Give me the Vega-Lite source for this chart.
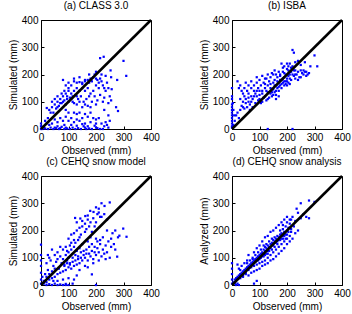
{
  "$schema": "https://vega.github.io/schema/vega-lite/v6.json",
  "padding": {"left": 7, "top": 0, "right": 3, "bottom": 2},
  "background": "white",
  "columns": 2,
  "spacing": {"column": 38, "row": 0},
  "datasets": {
    "diag": [{"o": 0, "s": 0}, {"o": 400, "s": 400}],
    "a": [
      {"o":215,"s":260},{"o":228,"s":265},{"o":300,"s":250},{"o":253,"s":215},{"o":310,"s":195},{"o":195,"s":200},{"o":80,"s":180},{"o":277,"s":180},{"o":255,"s":190},{"o":257,"s":146},{"o":273,"s":80},{"o":280,"s":66},{"o":21,"s":77},
      {"o":100,"s":170},{"o":110,"s":160},{"o":120,"s":175},{"o":130,"s":170},{"o":140,"s":172},{"o":150,"s":165},{"o":160,"s":175},{"o":170,"s":180},{"o":175,"s":170},{"o":180,"s":185},{"o":185,"s":175},{"o":190,"s":190},{"o":200,"s":185},{"o":205,"s":180},{"o":210,"s":170},{"o":215,"s":185},{"o":220,"s":175},{"o":225,"s":160},{"o":230,"s":150},{"o":240,"s":170},{"o":245,"s":150},{"o":235,"s":140},{"o":250,"s":120},{"o":210,"s":150},{"o":200,"s":160},{"o":190,"s":140},{"o":180,"s":130},{"o":170,"s":150},{"o":160,"s":140},{"o":150,"s":150},{"o":140,"s":140},{"o":130,"s":150},{"o":120,"s":140},{"o":110,"s":130},{"o":100,"s":140},{"o":90,"s":130},{"o":80,"s":120},{"o":70,"s":110},{"o":60,"s":100},{"o":50,"s":90},{"o":40,"s":80},{"o":30,"s":70},{"o":45,"s":60},{"o":55,"s":75},{"o":65,"s":85},{"o":75,"s":95},{"o":85,"s":105},{"o":95,"s":110},{"o":105,"s":115},{"o":115,"s":120},{"o":125,"s":125},{"o":135,"s":110},{"o":145,"s":120},{"o":155,"s":100},{"o":165,"s":110},{"o":175,"s":120},{"o":185,"s":100},{"o":195,"s":120},{"o":205,"s":105},{"o":215,"s":125},{"o":225,"s":100},{"o":230,"s":115},{"o":245,"s":95},{"o":255,"s":105},{"o":120,"s":95},{"o":100,"s":100},{"o":90,"s":90},{"o":80,"s":100},{"o":70,"s":95},{"o":60,"s":80},{"o":110,"s":110},{"o":130,"s":90},{"o":140,"s":100},{"o":150,"s":80},{"o":160,"s":90},{"o":170,"s":85},{"o":180,"s":80},{"o":200,"s":90},{"o":230,"s":70},{"o":245,"s":50},{"o":100,"s":150},{"o":90,"s":160},{"o":120,"s":185},{"o":140,"s":190},{"o":160,"s":180},{"o":175,"s":200},{"o":200,"s":210},{"o":220,"s":200},{"o":235,"s":195},{"o":150,"s":170},{"o":130,"s":120},{"o":115,"s":100},{"o":95,"s":120},{"o":85,"s":140},{"o":75,"s":130},{"o":60,"s":120},{"o":50,"s":110},{"o":40,"s":100},{"o":35,"s":60},{"o":25,"s":40},{"o":15,"s":30},{"o":20,"s":20},{"o":10,"s":10},
      {"o":5,"s":0},{"o":15,"s":2},{"o":25,"s":0},{"o":35,"s":5},{"o":45,"s":0},{"o":55,"s":3},{"o":65,"s":0},{"o":75,"s":8},{"o":85,"s":0},{"o":95,"s":2},{"o":105,"s":0},{"o":115,"s":5},{"o":125,"s":0},{"o":135,"s":3},{"o":145,"s":0},{"o":155,"s":10},{"o":165,"s":0},{"o":175,"s":2},{"o":185,"s":0},{"o":200,"s":5},{"o":215,"s":0},{"o":225,"s":0},{"o":40,"s":20},{"o":60,"s":25},{"o":80,"s":30},{"o":100,"s":30},{"o":120,"s":25},{"o":140,"s":30},{"o":160,"s":20},{"o":180,"s":25},{"o":200,"s":20},{"o":90,"s":45},{"o":110,"s":40},{"o":130,"s":35},{"o":150,"s":40},{"o":170,"s":45},{"o":190,"s":40},{"o":70,"s":40},{"o":50,"s":35},{"o":140,"s":60},{"o":160,"s":55},{"o":130,"s":55},{"o":120,"s":60},{"o":100,"s":60},{"o":90,"s":70},{"o":180,"s":60},{"o":200,"s":35},{"o":220,"s":20},{"o":240,"s":15},{"o":30,"s":15},{"o":60,"s":10},{"o":85,"s":15},{"o":110,"s":15},{"o":130,"s":12},{"o":150,"s":18},{"o":170,"s":10},{"o":195,"s":12},{"o":0,"s":20},{"o":0,"s":10},{"o":0,"s":0},{"o":10,"s":5},{"o":50,"s":5},{"o":70,"s":3},{"o":90,"s":5},{"o":160,"s":5},{"o":205,"s":3},{"o":230,"s":10},{"o":245,"s":5},{"o":250,"s":30},{"o":235,"s":25},{"o":210,"s":40}
    ],
    "b": [
      {"o":0,"s":150},{"o":0,"s":120},{"o":0,"s":110},{"o":0,"s":90},{"o":0,"s":80},{"o":0,"s":70},{"o":0,"s":60},{"o":0,"s":50},{"o":0,"s":40},{"o":0,"s":30},{"o":0,"s":20},{"o":0,"s":10},{"o":0,"s":5},{"o":3,"s":95},{"o":5,"s":70},{"o":8,"s":50},{"o":10,"s":30},{"o":5,"s":15},
      {"o":20,"s":175},{"o":25,"s":150},{"o":30,"s":160},{"o":35,"s":140},{"o":40,"s":130},{"o":45,"s":120},{"o":50,"s":110},{"o":30,"s":110},{"o":40,"s":100},{"o":50,"s":95},{"o":60,"s":100},{"o":60,"s":130},{"o":70,"s":120},{"o":70,"s":150},{"o":75,"s":110},{"o":80,"s":140},{"o":80,"s":160},{"o":85,"s":130},{"o":90,"s":120},{"o":90,"s":170},{"o":95,"s":150},{"o":100,"s":140},{"o":100,"s":110},{"o":100,"s":180},{"o":105,"s":160},{"o":110,"s":130},{"o":110,"s":100},{"o":115,"s":170},{"o":120,"s":150},{"o":120,"s":120},{"o":125,"s":185},{"o":125,"s":140},{"o":130,"s":160},{"o":130,"s":110},{"o":135,"s":175},{"o":140,"s":150},{"o":140,"s":130},{"o":140,"s":190},{"o":145,"s":120},{"o":150,"s":170},{"o":150,"s":145},{"o":155,"s":135},{"o":155,"s":180},{"o":160,"s":160},{"o":160,"s":125},{"o":165,"s":190},{"o":165,"s":150},{"o":170,"s":170},{"o":170,"s":140},{"o":175,"s":200},{"o":175,"s":160},{"o":180,"s":180},{"o":180,"s":150},{"o":185,"s":170},{"o":185,"s":210},{"o":190,"s":190},{"o":190,"s":160},{"o":195,"s":200},{"o":195,"s":175},{"o":200,"s":220},{"o":200,"s":185},{"o":205,"s":195},{"o":205,"s":170},{"o":210,"s":240},{"o":210,"s":200},{"o":215,"s":210},{"o":215,"s":180},{"o":220,"s":290},{"o":225,"s":280},{"o":220,"s":230},{"o":225,"s":195},{"o":230,"s":215},{"o":230,"s":185},{"o":235,"s":200},{"o":240,"s":210},{"o":245,"s":190},{"o":250,"s":215},{"o":255,"s":205},{"o":260,"s":200},{"o":265,"s":210},{"o":270,"s":195},{"o":275,"s":200},{"o":285,"s":230},{"o":300,"s":270},{"o":310,"s":230},{"o":240,"s":250},{"o":230,"s":245},{"o":200,"s":240},{"o":190,"s":230},{"o":180,"s":240},{"o":170,"s":210},{"o":160,"s":200},{"o":150,"s":200},{"o":130,"s":200},{"o":110,"s":195},{"o":90,"s":190},{"o":60,"s":160},{"o":50,"s":170},{"o":70,"s":175},{"o":45,"s":150},{"o":55,"s":140},{"o":65,"s":90},{"o":75,"s":80},{"o":85,"s":95},{"o":95,"s":105},{"o":105,"s":95},{"o":115,"s":115},{"o":125,"s":105},{"o":135,"s":115},{"o":145,"s":135},{"o":155,"s":160},{"o":165,"s":175},{"o":175,"s":180},{"o":185,"s":185},{"o":195,"s":165},{"o":205,"s":215},{"o":215,"s":225},{"o":110,"s":140},{"o":120,"s":165},{"o":100,"s":125},{"o":90,"s":140},{"o":80,"s":120},{"o":70,"s":100},{"o":60,"s":115},{"o":130,"s":135},{"o":140,"s":165},{"o":150,"s":125},{"o":160,"s":140},{"o":170,"s":155},{"o":180,"s":165},{"o":190,"s":205},{"o":200,"s":175},{"o":210,"s":185},{"o":220,"s":200},{"o":230,"s":200},{"o":240,"s":180},{"o":250,"s":190},{"o":260,"s":215},{"o":270,"s":210},{"o":280,"s":205},{"o":20,"s":60},{"o":25,"s":40},{"o":30,"s":70},{"o":40,"s":80},{"o":15,"s":50},{"o":130,"s":0},{"o":220,"s":0},{"o":35,"s":85},{"o":45,"s":75},{"o":55,"s":80},{"o":65,"s":70},{"o":120,"s":185},{"o":145,"s":205},{"o":155,"s":215},{"o":175,"s":195},{"o":185,"s":225},{"o":205,"s":230},{"o":225,"s":215},{"o":250,"s":235},{"o":265,"s":245},{"o":160,"s":110},{"o":170,"s":120},{"o":190,"s":175},{"o":200,"s":160},{"o":210,"s":165}
    ],
    "c": [
      {"o":0,"s":148},{"o":0,"s":110},{"o":0,"s":90},{"o":0,"s":70},{"o":0,"s":45},{"o":0,"s":20},{"o":0,"s":5},
      {"o":220,"s":300},{"o":250,"s":303},{"o":231,"s":290},{"o":179,"s":272},{"o":191,"s":268},{"o":210,"s":266},{"o":124,"s":246},{"o":143,"s":244},{"o":161,"s":253},{"o":299,"s":207},{"o":311,"s":177},{"o":285,"s":181},{"o":277,"s":104},{"o":185,"s":39},
      {"o":200,"s":285},{"o":205,"s":260},{"o":215,"s":250},{"o":190,"s":245},{"o":170,"s":240},{"o":180,"s":230},{"o":160,"s":225},{"o":150,"s":215},{"o":140,"s":210},{"o":130,"s":200},{"o":120,"s":190},{"o":110,"s":185},{"o":130,"s":230},{"o":150,"s":235},{"o":170,"s":255},{"o":200,"s":230},{"o":220,"s":250},{"o":240,"s":240},{"o":230,"s":260},{"o":210,"s":280},{"o":160,"s":195},{"o":140,"s":175},{"o":120,"s":165},{"o":100,"s":170},{"o":110,"s":155},{"o":90,"s":140},{"o":80,"s":130},{"o":100,"s":120},{"o":60,"s":120},{"o":70,"s":140},{"o":50,"s":110},{"o":40,"s":130},{"o":30,"s":100},{"o":20,"s":80},{"o":25,"s":110},{"o":35,"s":90},{"o":45,"s":70},{"o":55,"s":85},{"o":65,"s":60},{"o":75,"s":80},{"o":85,"s":70},{"o":95,"s":90},{"o":105,"s":80},{"o":115,"s":100},{"o":125,"s":110},{"o":135,"s":95},{"o":145,"s":120},{"o":155,"s":110},{"o":165,"s":130},{"o":175,"s":115},{"o":185,"s":125},{"o":195,"s":140},{"o":205,"s":135},{"o":215,"s":150},{"o":225,"s":130},{"o":235,"s":145},{"o":245,"s":160},{"o":255,"s":170},{"o":265,"s":150},{"o":270,"s":130},{"o":280,"s":175},{"o":150,"s":90},{"o":160,"s":100},{"o":170,"s":90},{"o":180,"s":105},{"o":190,"s":95},{"o":200,"s":110},{"o":210,"s":120},{"o":220,"s":105},{"o":230,"s":115},{"o":240,"s":120},{"o":250,"s":100},{"o":140,"s":80},{"o":130,"s":75},{"o":120,"s":70},{"o":110,"s":60},{"o":100,"s":65},{"o":90,"s":55},{"o":80,"s":50},{"o":70,"s":45},{"o":60,"s":40},{"o":50,"s":30},{"o":40,"s":25},{"o":30,"s":20},{"o":20,"s":10},{"o":10,"s":5},{"o":85,"s":75},{"o":95,"s":80},{"o":105,"s":75},{"o":115,"s":85},{"o":125,"s":90},{"o":135,"s":105},{"o":145,"s":100},{"o":155,"s":125},{"o":165,"s":115},{"o":175,"s":140},{"o":185,"s":150},{"o":195,"s":120},{"o":205,"s":160},{"o":215,"s":165},{"o":225,"s":175},{"o":200,"s":170},{"o":180,"s":175},{"o":170,"s":160},{"o":150,"s":150},{"o":140,"s":135},{"o":130,"s":125},{"o":120,"s":140},{"o":110,"s":130},{"o":100,"s":100},{"o":90,"s":110},{"o":80,"s":95},{"o":70,"s":105},{"o":60,"s":95},{"o":50,"s":60},{"o":40,"s":50},{"o":30,"s":40},{"o":20,"s":30},{"o":10,"s":15},
      {"o":20,"s":0},{"o":30,"s":3},{"o":40,"s":0},{"o":50,"s":5},{"o":60,"s":0},{"o":70,"s":2},{"o":80,"s":0},{"o":90,"s":4},{"o":100,"s":0},{"o":60,"s":15},{"o":80,"s":20},{"o":100,"s":25},{"o":120,"s":20},{"o":130,"s":35},{"o":45,"s":15},{"o":140,"s":55},{"o":160,"s":70},{"o":170,"s":65},{"o":190,"s":80},{"o":210,"s":90},{"o":235,"s":95},{"o":255,"s":140},{"o":90,"s":0},{"o":115,"s":5},{"o":200,"s":0},{"o":25,"s":55},{"o":15,"s":40},{"o":5,"s":30},{"o":95,"s":125},{"o":105,"s":145},{"o":125,"s":155},{"o":135,"s":165},{"o":145,"s":185},{"o":165,"s":205},{"o":175,"s":215},{"o":185,"s":195},{"o":195,"s":215},{"o":240,"s":200},{"o":260,"s":190},{"o":270,"s":200}
    ],
    "d": [
      {"o":0,"s":80},{"o":0,"s":60},{"o":0,"s":40},{"o":0,"s":20},{"o":0,"s":5},{"o":5,"s":10},{"o":10,"s":5},{"o":15,"s":0},{"o":20,"s":5},{"o":25,"s":0},{"o":80,"s":5},
      {"o":280,"s":310},{"o":250,"s":300},{"o":300,"s":305},{"o":235,"s":280},{"o":270,"s":250},{"o":280,"s":245},{"o":260,"s":260},{"o":240,"s":265},{"o":250,"s":245},{"o":230,"s":235},{"o":220,"s":250},{"o":215,"s":240},{"o":210,"s":225},{"o":205,"s":210},{"o":200,"s":200},{"o":195,"s":215},{"o":190,"s":195},{"o":185,"s":205},{"o":180,"s":190},{"o":175,"s":185},{"o":170,"s":175},{"o":165,"s":180},{"o":160,"s":170},{"o":155,"s":160},{"o":150,"s":165},{"o":145,"s":155},{"o":140,"s":150},{"o":135,"s":140},{"o":130,"s":145},{"o":125,"s":135},{"o":120,"s":125},{"o":115,"s":130},{"o":110,"s":120},{"o":105,"s":115},{"o":100,"s":110},{"o":95,"s":105},{"o":90,"s":100},{"o":85,"s":95},{"o":80,"s":90},{"o":75,"s":85},{"o":70,"s":80},{"o":65,"s":75},{"o":60,"s":70},{"o":55,"s":65},{"o":50,"s":60},{"o":45,"s":55},{"o":40,"s":50},{"o":35,"s":45},{"o":30,"s":40},{"o":25,"s":35},{"o":20,"s":30},{"o":15,"s":25},{"o":10,"s":20},
      {"o":215,"s":195},{"o":210,"s":180},{"o":200,"s":170},{"o":190,"s":160},{"o":180,"s":150},{"o":170,"s":140},{"o":160,"s":130},{"o":150,"s":120},{"o":140,"s":110},{"o":130,"s":100},{"o":120,"s":90},{"o":110,"s":85},{"o":100,"s":80},{"o":90,"s":75},{"o":80,"s":70},{"o":70,"s":65},{"o":60,"s":55},{"o":50,"s":45},{"o":40,"s":35},{"o":30,"s":25},
      {"o":60,"s":110},{"o":80,"s":120},{"o":90,"s":135},{"o":100,"s":145},{"o":110,"s":160},{"o":120,"s":175},{"o":130,"s":180},{"o":140,"s":195},{"o":150,"s":200},{"o":160,"s":210},{"o":170,"s":220},{"o":180,"s":230},{"o":190,"s":240},{"o":200,"s":250},{"o":75,"s":100},{"o":55,"s":90},{"o":45,"s":80},{"o":35,"s":70},{"o":25,"s":60},{"o":20,"s":75},{"o":30,"s":55},
      {"o":230,"s":190},{"o":240,"s":200},{"o":220,"s":170},{"o":210,"s":160},{"o":200,"s":150},{"o":190,"s":135},{"o":180,"s":125},{"o":170,"s":115},{"o":160,"s":105},{"o":150,"s":95},{"o":140,"s":90},{"o":130,"s":80},{"o":120,"s":75},{"o":110,"s":70},{"o":100,"s":60},{"o":90,"s":55},{"o":80,"s":50},{"o":70,"s":45},
      {"o":175,"s":165},{"o":165,"s":150},{"o":155,"s":140},{"o":145,"s":130},{"o":135,"s":125},{"o":125,"s":115},{"o":115,"s":105},{"o":105,"s":100},{"o":95,"s":90},{"o":85,"s":85},{"o":75,"s":75},{"o":65,"s":65},{"o":155,"s":175},{"o":145,"s":170},{"o":135,"s":160},{"o":125,"s":150},{"o":115,"s":145},{"o":105,"s":130},{"o":95,"s":120},{"o":85,"s":110},{"o":75,"s":95},{"o":65,"s":90},{"o":55,"s":80},{"o":50,"s":40},{"o":60,"s":35},{"o":40,"s":30},
      {"o":185,"s":180},{"o":195,"s":185},{"o":205,"s":195},{"o":215,"s":205},{"o":225,"s":215},{"o":165,"s":160},{"o":185,"s":170},{"o":195,"s":170},{"o":175,"s":200},{"o":185,"s":220},{"o":200,"s":230},{"o":210,"s":240},{"o":90,"s":15},{"o":120,"s":140},{"o":130,"s":125},{"o":140,"s":135},{"o":150,"s":145},{"o":160,"s":155},{"o":170,"s":165},{"o":180,"s":170},{"o":190,"s":180},{"o":200,"s":185},{"o":100,"s":95},{"o":110,"s":105},{"o":120,"s":110},{"o":130,"s":115}
    ]
  },
  "concat": [
    {
      "title": "(a) CLASS 3.0",
      "width": 110, "height": 109,
      "encoding": {
        "x": {"field": "o", "type": "quantitative", "title": "Observed (mm)", "scale": {"domain": [0, 400], "nice": false}, "axis": {"tickCount": 4, "labelOverlap": false}},
        "y": {"field": "s", "type": "quantitative", "title": "Simulated (mm)", "scale": {"domain": [0, 400], "nice": false},
              "axis": {"values": [0, 50, 100, 150, 200, 250, 300, 350, 400], "tickCount": 9, "labelOverlap": false,
                       "labelExpr": "datum.value % 100 === 0 ? datum.label : ''",
                       "tickOpacity": {"condition": {"test": "datum.value % 100 === 0", "value": 1}, "value": 0}}}
      },
      "layer": [
        {"data": {"name": "a"}, "mark": {"type": "point", "shape": "square", "filled": true, "size": 5, "color": "#0000ff", "opacity": 1}},
        {"data": {"name": "diag"}, "mark": {"type": "line", "color": "black", "strokeWidth": 2.5}, "encoding": {}}
      ]
    },
    {
      "title": "(b) ISBA",
      "width": 110, "height": 109,
      "encoding": {
        "x": {"field": "o", "type": "quantitative", "title": "Observed (mm)", "scale": {"domain": [0, 400], "nice": false}, "axis": {"tickCount": 4, "labelOverlap": false}},
        "y": {"field": "s", "type": "quantitative", "title": "Simulated (mm)", "scale": {"domain": [0, 400], "nice": false},
              "axis": {"values": [0, 50, 100, 150, 200, 250, 300, 350, 400], "tickCount": 9, "labelOverlap": false,
                       "labelExpr": "datum.value % 100 === 0 ? datum.label : ''",
                       "tickOpacity": {"condition": {"test": "datum.value % 100 === 0", "value": 1}, "value": 0}}}
      },
      "layer": [
        {"data": {"name": "b"}, "mark": {"type": "point", "shape": "square", "filled": true, "size": 5, "color": "#0000ff", "opacity": 1}},
        {"data": {"name": "diag"}, "mark": {"type": "line", "color": "black", "strokeWidth": 2.5}, "encoding": {}}
      ]
    },
    {
      "title": "(c) CEHQ snow model",
      "width": 110, "height": 109,
      "encoding": {
        "x": {"field": "o", "type": "quantitative", "title": "Observed (mm)", "scale": {"domain": [0, 400], "nice": false}, "axis": {"tickCount": 4, "labelOverlap": false}},
        "y": {"field": "s", "type": "quantitative", "title": "Simulated (mm)", "scale": {"domain": [0, 400], "nice": false},
              "axis": {"values": [0, 50, 100, 150, 200, 250, 300, 350, 400], "tickCount": 9, "labelOverlap": false,
                       "labelExpr": "datum.value % 100 === 0 ? datum.label : ''",
                       "tickOpacity": {"condition": {"test": "datum.value % 100 === 0", "value": 1}, "value": 0}}}
      },
      "layer": [
        {"data": {"name": "c"}, "mark": {"type": "point", "shape": "square", "filled": true, "size": 5, "color": "#0000ff", "opacity": 1}},
        {"data": {"name": "diag"}, "mark": {"type": "line", "color": "black", "strokeWidth": 2.5}, "encoding": {}}
      ]
    },
    {
      "title": "(d) CEHQ snow analysis",
      "width": 110, "height": 109,
      "encoding": {
        "x": {"field": "o", "type": "quantitative", "title": "Observed (mm)", "scale": {"domain": [0, 400], "nice": false}, "axis": {"tickCount": 4, "labelOverlap": false}},
        "y": {"field": "s", "type": "quantitative", "title": "Analyzed (mm)", "scale": {"domain": [0, 400], "nice": false},
              "axis": {"values": [0, 50, 100, 150, 200, 250, 300, 350, 400], "tickCount": 9, "labelOverlap": false,
                       "labelExpr": "datum.value % 100 === 0 ? datum.label : ''",
                       "tickOpacity": {"condition": {"test": "datum.value % 100 === 0", "value": 1}, "value": 0}}}
      },
      "layer": [
        {"data": {"name": "d"}, "mark": {"type": "point", "shape": "square", "filled": true, "size": 5, "color": "#0000ff", "opacity": 1}},
        {"data": {"name": "diag"}, "mark": {"type": "line", "color": "black", "strokeWidth": 2.5}, "encoding": {}}
      ]
    }
  ],
  "config": {
    "font": "Liberation Sans",
    "view": {"stroke": "black", "strokeWidth": 1},
    "axis": {"grid": false, "domainColor": "black", "tickColor": "black", "labelColor": "black", "titleColor": "black",
             "labelFontSize": 10, "titleFontSize": 10, "titleFontWeight": "normal", "tickSize": -3, "labelPadding": 6, "titlePadding": 3,
             "labelFlush": false, "labelOverlap": false, "labelBound": false},
    "axisY": {"labelOverlap": false},
    "title": {"fontSize": 10, "fontWeight": "normal", "color": "black", "offset": 4}
  }
}
